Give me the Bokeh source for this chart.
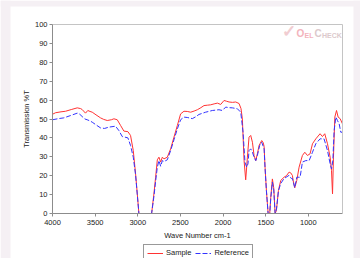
from bokeh.plotting import figure
from bokeh.models import Range1d, FixedTicker, Legend, LegendItem, Label, LinearAxis, BoxAnnotation
from bokeh.embed import file_html
from bokeh.resources import INLINE

# Sample spectrum (wave number, transmission %T)
sample_wn = [4000, 3965, 3900, 3847, 3780, 3710, 3670, 3652, 3613, 3586, 3560, 3534, 3490, 3437,
             3400, 3358, 3310, 3280, 3241, 3202, 3163, 3116, 3085, 3053, 3026, 3006, 2987, 2838,
             2811, 2791, 2771, 2752, 2732, 2712, 2693, 2654, 2615, 2576, 2536, 2498, 2459, 2420,
             2380, 2340, 2302, 2260, 2224, 2185, 2146, 2105, 2067, 2028, 1989, 1960, 1930, 1890,
             1852, 1813, 1790, 1774, 1754, 1735, 1715, 1696, 1676, 1656, 1637, 1617, 1598, 1578,
             1547, 1530, 1519, 1508, 1492, 1472, 1453, 1441, 1422, 1406, 1390, 1375, 1351, 1324,
             1285, 1257, 1226, 1207, 1187, 1179, 1160, 1136, 1109, 1070, 1042, 1011, 980, 952,
             913, 863, 835, 808, 776, 745, 729, 717, 706, 690, 670, 651, 628, 600]
sample_t = [52.5, 53.3, 53.8, 54.1, 55.0, 55.9, 55.5, 55.0, 53.1, 54.5, 54.0, 53.6, 52.2, 50.6,
            49.8, 49.2, 49.6, 50.1, 49.6, 46.6, 43.6, 43.3, 41.3, 33.3, 21.0, 10.4, 0, 0,
            10.4, 19.2, 28.4, 29.8, 27.2, 29.8, 28.9, 29.8, 34.2, 40.4, 46.6, 52.7, 54.1, 54.0,
            53.6, 54.2, 54.9, 56.0, 57.1, 57.3, 57.5, 58.0, 58.4, 57.7, 59.8, 59.4, 59.0, 58.8,
            59.0, 58.2, 55.5, 50.0, 28.0, 17.8, 29.8, 40.4, 41.3, 37.7, 30.7, 28.0, 31.6, 36.0,
            38.6, 37.5, 35.5, 24.5, 12.2, 0, 0, 8.6, 18.3, 13.5, 0, 1.5, 12.2, 17.5,
            19.2, 20.0, 21.9, 21.5, 20.1, 17.5, 13.6, 17.5, 24.5, 30.7, 32.4, 30.7, 31.6, 36.9,
            39.5, 42.2, 40.7, 42.2, 36.9, 29.8, 22.8, 10.4, 29.8, 51.0, 54.5, 51.0, 50.2, 47.4]

# Reference spectrum
ref_wn = [4000, 3930, 3867, 3790, 3710, 3680, 3652, 3620, 3594, 3560, 3534, 3480, 3437, 3390,
          3339, 3261, 3222, 3182, 3150, 3116, 3085, 3053, 3026, 3006, 2987, 2838, 2811, 2791,
          2771, 2752, 2732, 2712, 2693, 2654, 2615, 2576, 2536, 2498, 2459, 2420, 2360, 2320,
          2283, 2205, 2126, 2048, 2009, 1969, 1930, 1891, 1832, 1793, 1766, 1743, 1723, 1708,
          1696, 1676, 1656, 1637, 1617, 1598, 1571, 1547, 1519, 1508, 1492, 1472, 1453, 1441,
          1422, 1406, 1390, 1375, 1351, 1324, 1285, 1226, 1200, 1187, 1160, 1136, 1097, 1070,
          1030, 991, 952, 913, 863, 816, 776, 745, 729, 713, 698, 678, 659, 639, 620, 600]
ref_t = [49.6, 50.2, 50.6, 51.8, 53.1, 52.5, 51.3, 50.0, 49.6, 49.0, 48.3, 46.6, 45.3, 45.0,
         45.7, 46.2, 43.9, 40.7, 40.4, 40.0, 36.0, 29.8, 20.4, 10.0, 0, 0, 9.0, 17.0,
         24.5, 28.0, 25.0, 28.0, 27.5, 28.4, 33.3, 39.0, 44.8, 49.6, 51.0, 50.8, 50.2, 51.2,
         52.4, 53.6, 54.5, 54.9, 54.5, 56.3, 56.0, 55.9, 55.4, 53.6, 43.0, 27.0, 24.5, 26.3,
         33.3, 34.2, 32.4, 29.8, 28.0, 30.7, 36.0, 37.7, 34.2, 24.0, 12.0, 0, 0, 8.0,
         16.6, 12.5, 0, 2.0, 12.0, 15.9, 18.5, 20.2, 18.5, 18.5, 13.6, 19.2, 19.2, 27.2,
         28.0, 28.0, 32.4, 36.9, 39.5, 39.5, 33.3, 26.3, 23.6, 28.0, 43.9, 51.0, 49.2, 47.4, 43.0, 43.0]

x_ticks = [4000, 3500, 3000, 2500, 2000, 1500, 1000]
y_ticks = [0, 10, 20, 30, 40, 50, 60, 70, 80, 90, 100]
series_names = ["Sample", "Reference"]
X_MIN, X_MAX = 600, 4000   # plotted wave-number span
Y_MIN, Y_MAX = 0, 100      # plotted transmission span

FONT = "Liberation Sans"
AXIS_GREY = "#8c8c8c"
FRAME_GREY = "#c4c4c4"
PAGE_PINK = "#f5f0f4"

# The frame fills the whole canvas; the visible plot box (x 52..342, y 24..213 px)
# is drawn with axes pinned at fixed locations, so that labels, legend and the
# outer page border can sit around it without being clipped.
W, H = 360, 258
BOX_L, BOX_R, BOX_T, BOX_B = 52, 342, 24, 213
sx = (BOX_R - BOX_L) / (X_MAX - X_MIN)   # px per wave number
sy = (BOX_B - BOX_T) / (Y_MAX - Y_MIN)   # px per %T
x_lo = X_MAX + BOX_L / sx
x_hi = X_MIN - (W - BOX_R) / sx
y_hi = Y_MAX + BOX_T / sy
y_lo = Y_MIN - (H - BOX_B) / sy


def px_x(px):
    return X_MAX - (px - BOX_L) / sx


def px_y(py):
    return Y_MIN + (BOX_B - py) / sy


p = figure(width=W, height=H, output_backend="svg", toolbar_location=None,
           x_range=Range1d(x_lo, x_hi), y_range=Range1d(y_lo, y_hi), min_border=0)
p.background_fill_color = "white"
p.border_fill_color = "white"
p.outline_line_color = None
p.xgrid.visible = False
p.ygrid.visible = False

# pale page border around the white chart panel
p.add_layout(BoxAnnotation(left=x_lo, right=px_x(10), fill_color=PAGE_PINK, fill_alpha=1, line_color=None))
p.add_layout(BoxAnnotation(left=px_x(353), fill_color=PAGE_PINK, fill_alpha=1, line_color=None))
p.add_layout(BoxAnnotation(bottom=px_y(6), fill_color=PAGE_PINK, fill_alpha=1, line_color=None))

for ax in (p.xaxis[0], p.yaxis[0]):
    ax.axis_line_color = AXIS_GREY
    ax.major_tick_line_color = AXIS_GREY
    ax.major_tick_in = 0
    ax.major_tick_out = 3
    ax.minor_tick_line_color = None
    ax.major_label_text_font = FONT
    ax.major_label_text_font_size = "7.5px"
    ax.major_label_text_color = "#222222"
    ax.axis_label_text_font = FONT
    ax.axis_label_text_font_size = "7.5px"
    ax.axis_label_text_font_style = "normal"
    ax.axis_label_text_color = "#222222"

p.xaxis.ticker = FixedTicker(ticks=x_ticks)
p.yaxis.ticker = FixedTicker(ticks=y_ticks)
p.xaxis.fixed_location = Y_MIN
p.yaxis.fixed_location = X_MAX
p.xaxis.bounds = (X_MAX, X_MIN)
p.yaxis.bounds = (Y_MIN, Y_MAX)
p.xaxis.axis_label = "Wave Number cm-1"
p.yaxis.axis_label = "Transmission %T"
p.xaxis.major_label_standoff = 3
p.xaxis.axis_label_standoff = 3
p.yaxis.major_label_standoff = 2
p.yaxis.axis_label_standoff = 1

# light grey top and right frame lines
top_ax = LinearAxis(ticker=FixedTicker(ticks=[]), axis_line_color=FRAME_GREY,
                    major_tick_line_color=None, minor_tick_line_color=None,
                    fixed_location=Y_MAX, bounds=(X_MAX, X_MIN))
right_ax = LinearAxis(ticker=FixedTicker(ticks=[]), axis_line_color=FRAME_GREY,
                      major_tick_line_color=None, minor_tick_line_color=None,
                      fixed_location=X_MIN, bounds=(Y_MIN, Y_MAX))
p.add_layout(top_ax, "above")
p.add_layout(right_ax, "right")

r1 = p.line(sample_wn, sample_t, line_color="#ff3333", line_width=1)
r2 = p.line(ref_wn, ref_t, line_color="#3333ff", line_width=1, line_dash="5 2")

legend = Legend(items=[LegendItem(label=series_names[0], renderers=[r1]),
                       LegendItem(label=series_names[1], renderers=[r2])],
                orientation="horizontal", location=(143, -3))
legend.label_text_font = FONT
legend.label_text_font_size = "7.5px"
legend.label_text_color = "#222222"
legend.glyph_width = 16
legend.glyph_height = 8
legend.label_standoff = 3
legend.spacing = 4
legend.padding = 3
legend.margin = 0
legend.border_line_color = "#333333"
legend.border_line_width = 1
legend.label_height = 8
p.add_layout(legend)

# watermark logo
p.add_layout(Label(x=px_x(288), y=px_y(40), text="\u2713", text_font=FONT, text_font_size="17px",
                   text_color="#f1cdd1", text_align="center", text_font_style="bold"))
p.add_layout(Label(x=px_x(296), y=px_y(38), text="O", text_font=FONT, text_font_size="10px",
                   text_color="#f3b3bc", text_font_style="bold"))
p.add_layout(Label(x=px_x(304), y=px_y(38), text="EL", text_font=FONT, text_font_size="7px",
                   text_color="#f3b3bc", text_font_style="bold"))
p.add_layout(Label(x=px_x(314), y=px_y(38), text="C", text_font=FONT, text_font_size="10px",
                   text_color="#dcc9cc", text_font_style="bold"))
p.add_layout(Label(x=px_x(321.5), y=px_y(38), text="HECK", text_font=FONT, text_font_size="7px",
                   text_color="#dcc9cc", text_font_style="bold"))

open("out.html", "w").write(file_html(p, INLINE))
